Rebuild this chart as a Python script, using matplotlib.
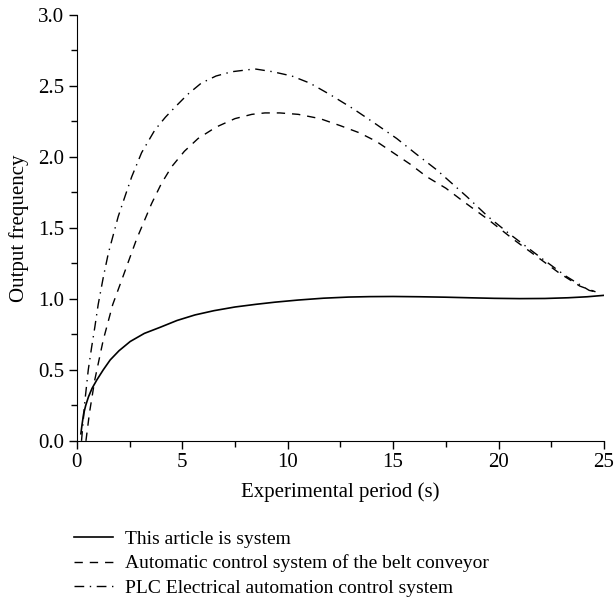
import matplotlib

matplotlib.use("Agg")
import matplotlib.pyplot as plt
from matplotlib.ticker import MultipleLocator

# values
t_solid = [0.19, 0.25, 0.32, 0.42, 0.55, 0.72, 0.95, 1.25, 1.58, 2.0, 2.53, 3.2, 3.95, 4.75, 5.6, 6.5, 7.5, 8.5, 9.4, 10.5, 11.7, 12.9, 13.9, 15.0, 16.3, 17.5, 18.6, 19.8, 21.0, 22.2, 23.3, 24.2, 25.0]
y_solid = [0.05, 0.12, 0.19, 0.25, 0.31, 0.37, 0.43, 0.50, 0.57, 0.635, 0.70, 0.757, 0.80, 0.848, 0.887, 0.917, 0.943, 0.962, 0.977, 0.992, 1.005, 1.013, 1.016, 1.017, 1.015, 1.012, 1.008, 1.004, 1.002, 1.003, 1.008, 1.015, 1.025]

t_belt = [0.43, 0.6, 0.85, 1.25, 1.7, 2.12, 2.83, 3.54, 4.0, 4.49, 5.1, 5.75, 6.6, 7.5, 8.3, 8.92, 9.63, 10.5, 11.53, 12.5, 13.4, 14.2, 15.0, 15.8, 16.6, 17.5, 18.3, 19.5, 20.7, 21.8, 22.9, 23.86, 24.6]
y_belt = [0.0, 0.20, 0.43, 0.71, 0.96, 1.13, 1.42, 1.67, 1.81, 1.93, 2.04, 2.13, 2.21, 2.27, 2.30, 2.31, 2.31, 2.30, 2.27, 2.22, 2.17, 2.11, 2.03, 1.95, 1.86, 1.78, 1.69, 1.56, 1.42, 1.30, 1.18, 1.09, 1.05]

t_plc = [0.22, 0.38, 0.54, 0.7, 0.85, 1.01, 1.25, 1.49, 1.96, 2.3, 2.6, 3.07, 3.7, 4.2, 4.65, 5.25, 5.9, 6.6, 7.34, 8.44, 9.3, 10.2, 11.05, 12.0, 13.1, 14.1, 15.17, 16.1, 17.06, 18.5, 19.5, 20.5, 21.3, 22.1, 23.2, 24.3, 24.6]
y_plc = [0.0, 0.28, 0.50, 0.66, 0.80, 0.96, 1.15, 1.32, 1.58, 1.73, 1.86, 2.03, 2.19, 2.28, 2.35, 2.44, 2.52, 2.57, 2.60, 2.62, 2.60, 2.57, 2.52, 2.44, 2.34, 2.24, 2.13, 2.02, 1.91, 1.72, 1.58, 1.46, 1.37, 1.28, 1.16, 1.06, 1.05]

labels = [
    "This article is system",
    "Automatic control system of the belt conveyor",
    "PLC Electrical automation control system",
]

plt.rcParams["font.family"] = ["Liberation Serif", "DejaVu Serif"]
plt.rcParams["font.size"] = 15

fig = plt.figure(figsize=(6.15, 5.99), dpi=100)
ax = fig.add_axes([0.125, 0.264, 0.857, 0.711])

ax.plot(t_solid, y_solid, color="black", linewidth=1.2, linestyle="-", label=labels[0])
ax.plot(t_belt, y_belt, color="black", linewidth=1.0, linestyle=(0, (6, 5)), label=labels[1])
ax.plot(t_plc, y_plc, color="black", linewidth=1.0, linestyle=(0, (7, 4, 1, 4)), label=labels[2])

ax.set_xlim(0, 25)
ax.set_ylim(0, 3.0)
ax.xaxis.set_major_locator(MultipleLocator(5))
ax.xaxis.set_minor_locator(MultipleLocator(2.5))
ax.yaxis.set_major_locator(MultipleLocator(0.5))
ax.yaxis.set_minor_locator(MultipleLocator(0.25))
ax.yaxis.set_major_formatter(plt.FormatStrFormatter("%.1f"))
ax.tick_params(which="major", direction="out", length=6, width=1, labelsize=15, pad=3)
ax.tick_params(which="minor", direction="out", length=4, width=1)
ax.spines["top"].set_visible(False)
ax.spines["right"].set_visible(False)
ax.set_xlabel("Experimental period (s)", labelpad=7, fontsize=15)
ax.set_ylabel("Output frequency", labelpad=7, fontsize=15)

fig.legend(loc="upper left", bbox_to_anchor=(0.108, 0.128), frameon=False,
           handlelength=2.0, handletextpad=0.6, labelspacing=0.35,
           borderaxespad=0, fontsize=14)

fig.savefig("out.png", dpi=100)
